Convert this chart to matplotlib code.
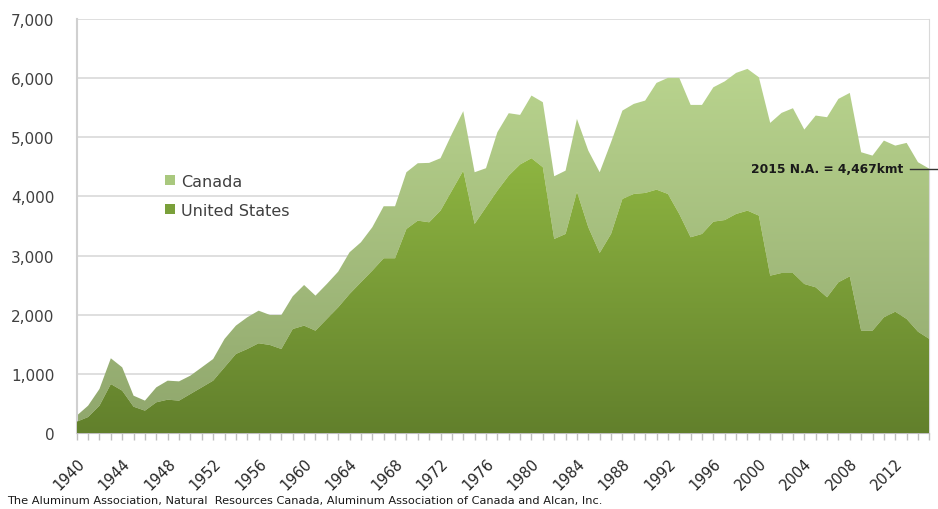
import numpy as np
import matplotlib
matplotlib.use("Agg")
import matplotlib.pyplot as plt
from matplotlib.colors import LinearSegmentedColormap
from matplotlib.patches import Patch, Polygon

# produccion de aluminio primario (kmt)
years = list(range(1940, 2016))
us = [191, 270, 462, 828, 716, 445, 378, 519, 564, 547,
      660, 772, 885, 1110, 1336, 1420, 1517, 1488, 1420, 1758,
      1815, 1730, 1928, 2125, 2350, 2548, 2745, 2954, 2954, 3449,
      3590, 3562, 3759, 4097, 4435, 3534, 3816, 4097, 4351, 4540,
      4645, 4493, 3280, 3365, 4080, 3478, 3044, 3365, 3957, 4041,
      4058, 4114, 4041, 3703, 3309, 3365, 3573, 3600, 3703, 3759,
      3675, 2660, 2705, 2705, 2519, 2463, 2294, 2548, 2649, 1730,
      1730, 1956, 2051, 1928, 1713, 1590]
canada = [102, 192, 282, 435, 394, 186, 169, 253, 321, 326,
          310, 338, 366, 480, 479, 536, 551, 507, 575, 553,
          687, 592, 591, 603, 705, 676, 733, 879, 879, 959,
          970, 1004, 886, 959, 1005, 874, 660, 987, 1055, 837,
          1059, 1099, 1060, 1070, 1229, 1295, 1364, 1550, 1493, 1522,
          1561, 1804, 1962, 2300, 2237, 2181, 2271, 2344, 2384, 2396,
          2339, 2582, 2706, 2785, 2610, 2903, 3044, 3100, 3100, 3016,
          2959, 2987, 2807, 2976, 2864, 2877]
total_2015 = "2015 N.A. = 4,467kmt"
source = "The Aluminum Association, Natural  Resources Canada, Aluminum Association of Canada and Alcan, Inc."

x = np.array(years)
us = np.array(us)
top = us + np.array(canada)

fig = plt.figure(figsize=(9.38, 5.1), dpi=100)
ax = fig.add_axes([0.0818, 0.149, 0.909, 0.812])


def relleno(y1, y2, c_arriba, c_abajo, ytop, z):
    y1 = np.broadcast_to(y1, x.shape)
    verts = np.vstack([np.column_stack([x, y2]), np.column_stack([x[::-1], y1[::-1]])])
    poly = Polygon(verts, closed=True, facecolor="none", edgecolor="none")
    ax.add_patch(poly)
    cmap = LinearSegmentedColormap.from_list("g", [c_abajo, c_arriba])
    grad = np.linspace(0, 1, 256).reshape(-1, 1)
    im = ax.imshow(grad, extent=[x[0], x[-1], 0, ytop], origin="lower",
                   cmap=cmap, aspect="auto", zorder=z, interpolation="bilinear")
    im.set_clip_path(poly)


relleno(us, top, "#b9d48e", "#8fa66c", 6200, 2)
relleno(0, us, "#8eb541", "#62802c", 4650, 3)

ax.set_xlim(1940, 2015)
ax.set_ylim(0, 7000)
ax.set_yticks(range(0, 7001, 1000))
ax.set_yticklabels(["{:,}".format(v) for v in range(0, 7001, 1000)],
                   fontsize=11, color="#404040")
ax.set_xticks(range(1940, 2016, 4))
ax.set_xticklabels([str(a) for a in range(1940, 2016, 4)], rotation=45,
                   fontsize=10.5, color="#262626", ha="right", va="top",
                   rotation_mode="anchor")
ax.set_xticks(range(1940, 2016), minor=True)
ax.tick_params(axis="x", which="both", length=5, color="#bfbfbf", width=1, pad=11)
ax.tick_params(axis="y", length=0, pad=16)
ax.grid(axis="y", color="#d9d9d9", linewidth=1.2, zorder=1)
ax.set_axisbelow(True)
ax.spines["top"].set_visible(False)
ax.spines["left"].set_color("#d0d0d0")
ax.spines["right"].set_color("#d9d9d9")
ax.spines["bottom"].set_color("#bfbfbf")
ax.spines["left"].set_linewidth(1.5)

handles = [Patch(facecolor="#a9c87e", edgecolor="none", label="Canada"),
           Patch(facecolor="#7aa03a", edgecolor="none", label="United States")]
ax.legend(handles=handles, loc="upper left", bbox_to_anchor=(0.0865, 0.661),
          frameon=False, fontsize=11.5, handlelength=0.65, handleheight=0.6,
          handletextpad=0.35, labelspacing=0.9, labelcolor="#404040")

ax.text(2012.7, 4467, total_2015, fontsize=8.8, fontweight="bold",
        ha="right", va="center", color="#1a1a1a", zorder=5)
ax.plot([2013.3, 2015.8], [4467, 4467], color="#333333", linewidth=1,
        clip_on=False, zorder=5)

fig.text(0.008, 0.012, source, fontsize=8.2, color="#1a1a1a")

fig.savefig("out.png", dpi=100)
